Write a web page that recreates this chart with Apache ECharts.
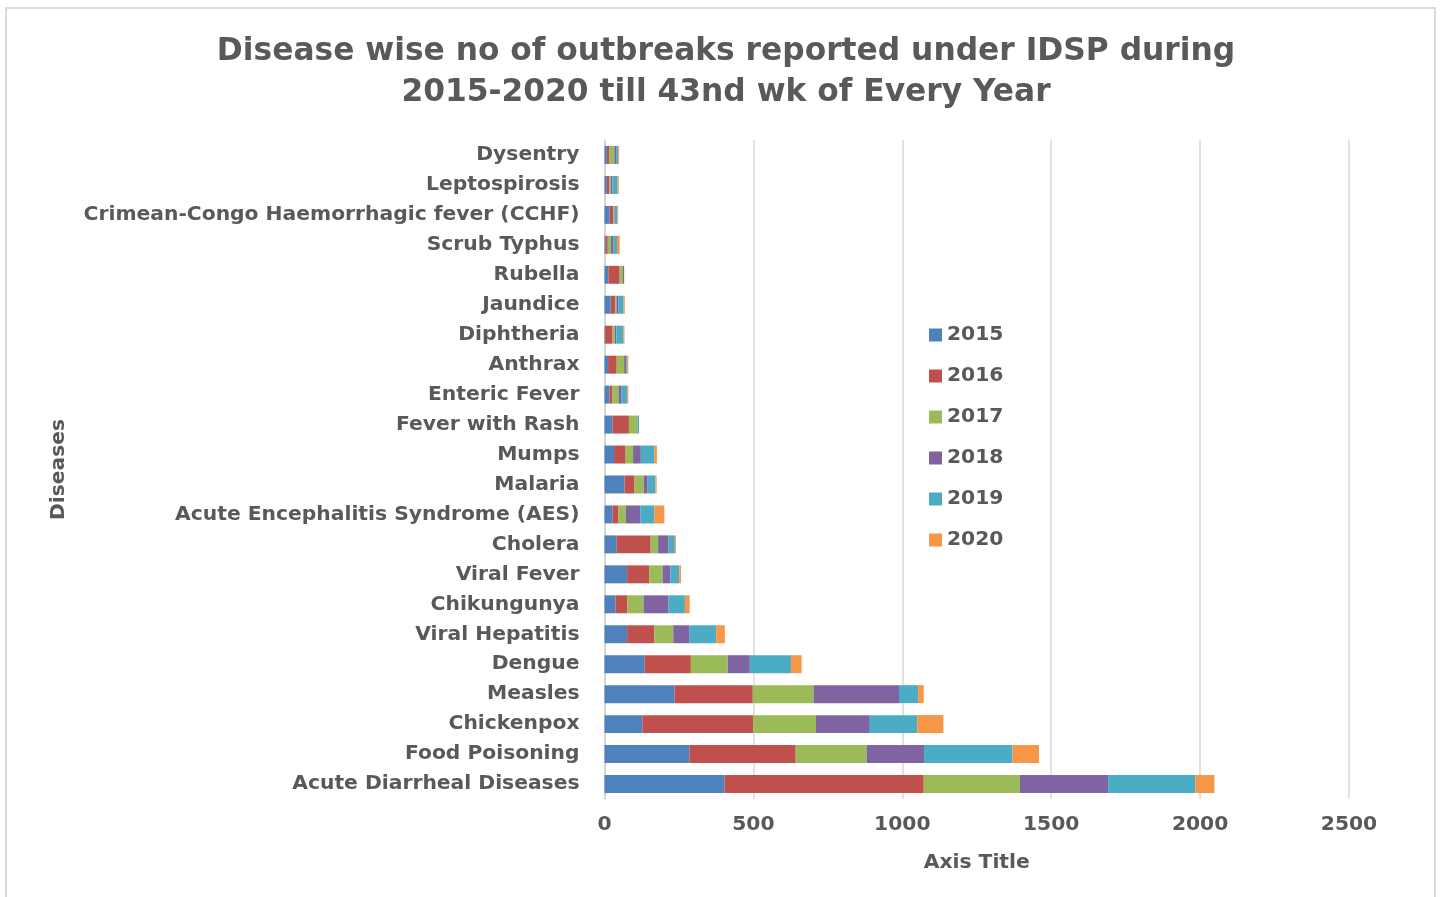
<!DOCTYPE html>
<html>
<head>
<meta charset="utf-8">
<script src="https://cdn.jsdelivr.net/npm/echarts@6/dist/echarts.min.js"></script>
<style>
html,body{margin:0;padding:0;background:#fff;}
#chart{width:1443px;height:897px;}
</style>
</head>
<body>
<div id="chart"></div>
<script>
var categories = ['Acute Diarrheal Diseases','Food Poisoning','Chickenpox','Measles','Dengue','Viral Hepatitis','Chikungunya','Viral Fever','Cholera','Acute Encephalitis Syndrome (AES)','Malaria','Mumps','Fever with Rash','Enteric Fever','Anthrax','Diphtheria','Jaundice','Rubella','Scrub Typhus','Crimean-Congo Haemorrhagic fever (CCHF)','Leptospirosis','Dysentry'];
var years = ['2015','2016','2017','2018','2019','2020'];
var v2015 = [403, 285, 127, 235, 135, 76, 37, 76, 41, 27, 67, 32, 27, 17, 12, 2, 21, 13, 4, 17, 8, 8];
var v2016 = [669, 357, 372, 263, 155, 91, 40, 74, 114, 20, 34, 39, 55, 10, 29, 25, 15, 38, 7, 13, 9, 9];
var v2017 = [323, 238, 211, 204, 124, 64, 54, 45, 25, 25, 31, 25, 29, 20, 25, 7, 4, 11, 11, 2, 4, 16];
var v2018 = [296, 193, 181, 287, 74, 55, 84, 26, 35, 49, 13, 26, 1, 9, 7, 6, 6, 4, 8, 2, 6, 6];
var v2019 = [293, 297, 159, 64, 138, 89, 55, 30, 21, 46, 26, 45, 4, 20, 3, 23, 18, 0, 12, 9, 17, 7];
var v2020 = [64, 89, 88, 19, 36, 29, 16, 6, 4, 34, 4, 9, 0, 4, 4, 4, 4, 0, 9, 3, 4, 3];
var xTicks = [0, 500, 1000, 1500, 2000, 2500];

var colors = ['#4F81BD','#C0504D','#9BBB59','#8064A2','#4BACC6','#F79646'];
var values = [v2015, v2016, v2017, v2018, v2019, v2020];
var FONT = '"DejaVu Sans", sans-serif';
var TXT = '#595959';
var FS = 20.3;

var chart = echarts.init(document.getElementById('chart'));
var series = years.map(function (y, i) {
  return {
    name: y,
    type: 'bar',
    stack: 'total',
    data: values[i],
    barCategoryGap: '40%',
    itemStyle: { color: colors[i] }
  };
});

chart.setOption({
  animation: false,
  color: colors,
  graphic: [{
    type: 'rect',
    shape: { x: 6, y: 8, width: 1429, height: 900 },
    style: { fill: 'none', stroke: '#d9d9d9', lineWidth: 2 },
    silent: true
  }],
  title: {
    text: 'Disease wise no of outbreaks reported under IDSP during\n2015-2020 till 43nd wk of Every Year',
    left: 721,
    top: 26,
    textAlign: 'center',
    textStyle: { fontFamily: FONT, fontSize: 31.3, fontWeight: 'bold', color: TXT, lineHeight: 41 }
  },
  legend: {
    orient: 'vertical',
    left: 924,
    top: 320,
    itemWidth: 13,
    itemHeight: 13,
    itemGap: 21,
    itemTextGap: 9,
    icon: 'rect',
    data: years,
    textStyle: { fontFamily: FONT, fontSize: FS, fontWeight: 'bold', color: TXT, lineHeight: 20 }
  },
  grid: { left: 604.5, right: 94, top: 140, bottom: 98, containLabel: false },
  xAxis: {
    type: 'value',
    min: 0,
    max: 2500,
    interval: 500,
    name: 'Axis Title',
    nameLocation: 'middle',
    nameGap: 54,
    nameTextStyle: { fontFamily: FONT, fontSize: FS, fontWeight: 'bold', color: TXT },
    axisLine: { show: false },
    axisTick: { show: false },
    axisLabel: {
      fontFamily: FONT, fontSize: FS, fontWeight: 'bold', color: TXT, margin: 16,
      formatter: function (v) { return xTicks.indexOf(v) >= 0 ? String(v) : ''; }
    },
    splitLine: { lineStyle: { color: '#d9d9d9', width: 1.5 } }
  },
  yAxis: {
    type: 'category',
    data: categories,
    name: 'Diseases',
    nameLocation: 'middle',
    nameGap: 536,
    nameTextStyle: { fontFamily: FONT, fontSize: FS, fontWeight: 'bold', color: TXT },
    axisLine: { show: true, lineStyle: { color: '#d0d0d0', width: 1.5 } },
    axisTick: { show: false },
    axisLabel: { fontFamily: FONT, fontSize: FS, fontWeight: 'bold', color: TXT, margin: 25 }
  },
  series: series
});
</script>
</body>
</html>
